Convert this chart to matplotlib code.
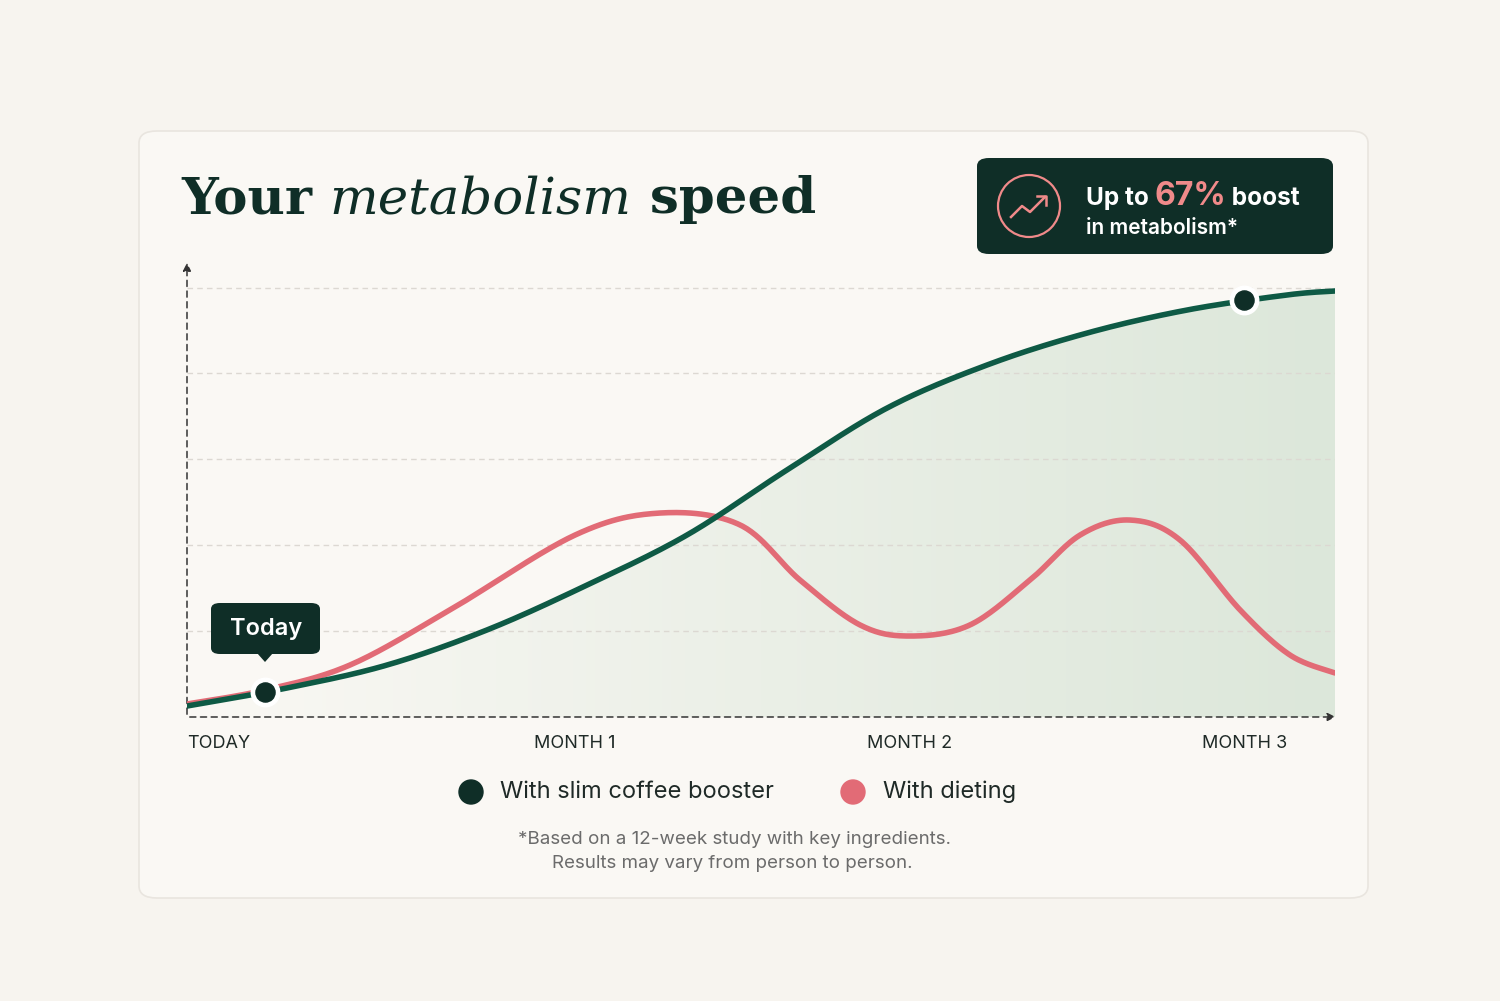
import matplotlib
matplotlib.use("Agg")
import matplotlib.pyplot as plt
import numpy as np
from matplotlib.patches import FancyBboxPatch, Ellipse, Polygon

W, H = 1500, 1001

# x in months-ish units (axis spans 0..3.437), y in gridline units
month_ticks = [0.0, 1.162, 2.162, 3.165]
month_labels = ["TODAY", "MONTH 1", "MONTH 2", "MONTH 3"]

boost_x = [0, 0.299, 0.599, 0.898, 1.198, 1.497, 1.796, 2.096, 2.395, 2.695, 2.994, 3.293, 3.437]
boost_y = [0.127, 0.335, 0.601, 1.006, 1.526, 2.104, 2.855, 3.572, 4.069, 4.439, 4.705, 4.879, 4.925]

diet_x = [0, 0.234, 0.488, 0.787, 1.162, 1.416, 1.656, 1.835, 2.015, 2.165, 2.344,
          2.524, 2.674, 2.823, 2.973, 3.153, 3.302, 3.437]
diet_y = [0.150, 0.312, 0.601, 1.237, 2.104, 2.358, 2.220, 1.584, 1.064, 0.936, 1.064,
          1.584, 2.104, 2.277, 2.046, 1.237, 0.717, 0.509]

today_point = (0.234, 0.289)
month3_point = (3.165, 4.821)

GREEN = "#0e5a45"
RED = "#e26b76"
DARK = "#0f2e27"
BG = "#f7f4ef"
CARD = "#faf8f4"


def px(x, y):
    return x / W, 1 - y / H


def dot(x, y, r, **kw):
    return Ellipse(px(x, y), 2 * r / W, 2 * r / H, transform=fig.transFigure, **kw)


# Catmull-Rom smoothing of the read points
def smooth(xs, ys, n=30):
    p = np.column_stack([xs, ys])
    p = np.vstack([p[0], p, p[-1]])
    out = []
    t = np.linspace(0, 1, n, endpoint=False)[:, None]
    for i in range(1, len(p) - 2):
        p0, p1, p2, p3 = p[i - 1], p[i], p[i + 1], p[i + 2]
        seg = 0.5 * ((2 * p1) + (-p0 + p2) * t + (2 * p0 - 5 * p1 + 4 * p2 - p3) * t ** 2
                     + (-p0 + 3 * p1 - 3 * p2 + p3) * t ** 3)
        out.append(seg)
    out.append(p[-2][None, :])
    s = np.vstack(out)
    return s[:, 0], s[:, 1]


fig = plt.figure(figsize=(15, 10.01), dpi=100)
fig.patch.set_facecolor(BG)

card = FancyBboxPatch(px(139, 898), 1229 / W, 767 / H, boxstyle="round,pad=0,rounding_size=0.012",
                      transform=fig.transFigure, facecolor=CARD, edgecolor="#e9e5df", lw=1.2,
                      zorder=-5)
fig.patches.append(card)

ax = fig.add_axes([187 / W, (H - 717) / H, 1148 / W, 457 / H])
ax.set_zorder(2)
ax.set_xlim(0, 3.437)
ax.set_ylim(0, 457 / 86.5)
ax.axis("off")

for g in range(1, 6):
    ax.plot([0, 3.437], [g * 0.993, g * 0.993], color="#dcd8d2", lw=1, ls=(0, (4, 3)), zorder=1)

# axes arrows
ax.annotate("", xy=(1.003, 0), xytext=(0, 0), xycoords="axes fraction",
            arrowprops=dict(arrowstyle="-|>", color="#333", lw=1.1, ls=(0, (4, 3)), mutation_scale=12),
            annotation_clip=False)
ax.annotate("", xy=(0, 1.0), xytext=(0, 0), xycoords="axes fraction",
            arrowprops=dict(arrowstyle="-|>", color="#333", lw=1.1, ls=(0, (4, 3)), mutation_scale=12),
            annotation_clip=False)

gx, gy = smooth(boost_x, boost_y)
dx, dy = smooth(diet_x, diet_y)

# gradient fill under the green curve
grad = np.linspace(0, 1, 256)[None, :]
cm = matplotlib.colors.LinearSegmentedColormap.from_list("g", [CARD, "#dce7da"])
im = ax.imshow(np.tile(grad, (2, 1)), extent=[0, 3.437, 0, 5.2], aspect="auto", cmap=cm, zorder=0.5)
poly = Polygon(np.column_stack([np.r_[gx, gx[-1], 0], np.r_[gy, 0, 0]]), closed=True,
               transform=ax.transData, facecolor="none", edgecolor="none")
ax.add_patch(poly)
im.set_clip_path(poly)

ax.plot(dx, dy, color=RED, lw=4, solid_capstyle="round", zorder=3)
ax.plot(gx, gy, color=GREEN, lw=4, solid_capstyle="round", zorder=4)

for p in (today_point, month3_point):
    ax.scatter(*p, s=420, color="white", zorder=5)
    ax.scatter(*p, s=190, color=DARK, zorder=6)

for t, lab in zip(month_ticks, month_labels):
    ha = "left" if t == 0 else "center"
    ax.text(t, -0.21, lab, ha=ha, va="top", fontsize=13, color="#1f2a27",
            family="Inter", clip_on=False)

# today tooltip, drawn inside the axes so it sits above the gridlines
tip = FancyBboxPatch(px(211, 654), 109 / W, 51 / H, boxstyle="round,pad=0,rounding_size=0.006",
                     transform=fig.transFigure, facecolor=DARK, edgecolor="none", zorder=7,
                     clip_on=False)
ax.add_patch(tip)
ax.add_patch(Polygon([px(257, 653), px(273, 653), px(265, 662)], closed=True,
                     transform=fig.transFigure, facecolor=DARK, edgecolor="none", zorder=7,
                     clip_on=False))
ax.text(*px(266, 629), "Today", transform=fig.transFigure, fontsize=17, color="white",
        weight="semibold", family="Inter", ha="center", va="center", zorder=8)

# title
fig.canvas.draw()
r = fig.canvas.get_renderer()
xpos = 181
for s, style in [("Your ", "normal"), ("metabolism", "italic"), (" speed", "normal")]:
    t = fig.text(*px(xpos, 213), s, fontsize=37, family="DejaVu Serif", style=style,
                 weight="bold" if style == "normal" else "normal", color=DARK, va="baseline")
    bb = t.get_window_extent(r)
    xpos += bb.width

# badge
badge = FancyBboxPatch(px(977, 254), 356 / W, 96 / H, boxstyle="round,pad=0,rounding_size=0.008",
                       transform=fig.transFigure, facecolor=DARK, edgecolor="none")
fig.patches.append(badge)
fig.patches.append(dot(1029, 206, 31, facecolor="none", edgecolor="#f08a8a", lw=1.6))
fig.lines.append(plt.Line2D([1011 / W, 1022 / W, 1030 / W, 1045 / W],
                            [1 - 217 / H, 1 - 206 / H, 1 - 212 / H, 1 - 197 / H],
                            transform=fig.transFigure, color="#f08a8a", lw=1.8))
fig.lines.append(plt.Line2D([1037 / W, 1046 / W, 1046 / W], [1 - 196 / H, 1 - 196 / H, 1 - 205 / H],
                            transform=fig.transFigure, color="#f08a8a", lw=1.8))
xpos = 1086
for s, c, fs in [("Up to ", "white", 17.5), ("67%", "#f08a8a", 23), (" boost", "white", 17.5)]:
    t = fig.text(*px(xpos, 205), s, fontsize=fs, color=c, weight="bold", family="Inter", va="baseline")
    xpos += t.get_window_extent(r).width
fig.text(*px(1086, 234), "in metabolism*", fontsize=15, color="white", family="Inter",
         weight="semibold", va="baseline")

# legend
fig.patches.append(dot(471, 792, 12, color=DARK))
fig.text(*px(500, 792), "With slim coffee booster", fontsize=17, color="#1f2a27", family="Inter",
         va="center")
fig.patches.append(dot(853, 792, 12, color=RED))
fig.text(*px(883, 792), "With dieting", fontsize=17, color="#1f2a27", family="Inter", va="center")

fig.text(*px(735, 840), "*Based on a 12-week study with key ingredients.", fontsize=13.5,
         color="#6b6b6b", family="Inter", ha="center", va="center")
fig.text(*px(732, 864), "Results may vary from person to person.", fontsize=13.5,
         color="#6b6b6b", family="Inter", ha="center", va="center")

fig.savefig("out.png", dpi=100, facecolor=BG)
